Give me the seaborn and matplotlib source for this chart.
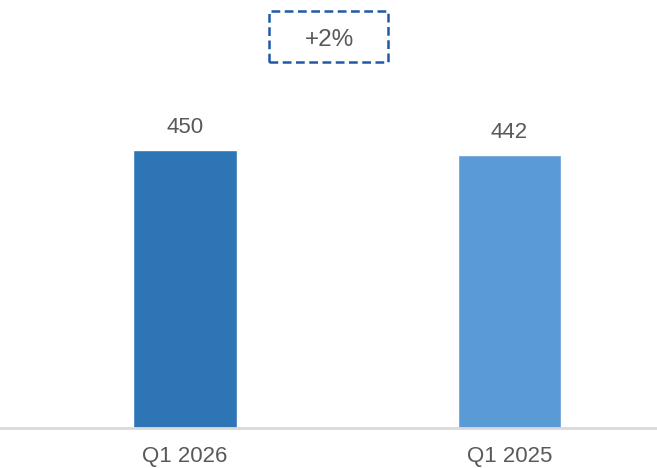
import matplotlib
matplotlib.use('Agg')
import matplotlib.pyplot as plt
from matplotlib.patches import Rectangle
import seaborn as sns
import pandas as pd

# dados
periodos = ['Q1 2026', 'Q1 2025']
valores = [450, 442]
cores = ['#2E75B6', '#5B9BD5']
variacao = '+2%'

sns.set_style('white')
plt.rcParams['font.family'] = ['Liberation Sans', 'DejaVu Sans']

df = pd.DataFrame({'periodo': periodos, 'valor': valores})

fig = plt.figure(figsize=(6.57, 4.68), dpi=100)
ax = fig.add_axes([0, 40 / 468, 1, 428 / 468])

sns.barplot(data=df, x='periodo', y='valor', hue='periodo', palette=cores,
            width=0.32, legend=False, ax=ax, saturation=1)

for i, v in enumerate(valores):
    ax.text(i, v + 19, f'{v}', ha='center', va='bottom', fontsize=16, color='#595959')

ax.set_xlim(-0.571, 1.455)
ax.set_ylim(0, 693)
ax.set_xlabel('')
ax.set_ylabel('')
ax.set_yticks([])
ax.tick_params(axis='x', length=0, labelsize=16, labelcolor='#595959', pad=13)
for s in ['top', 'right', 'left']:
    ax.spines[s].set_visible(False)
ax.spines['bottom'].set_color('#D9D9D9')
ax.spines['bottom'].set_linewidth(2)

# caixa da variacao
fig.add_artist(Rectangle((269 / 657, 1 - 62 / 468), 119 / 657, 51 / 468,
                         transform=fig.transFigure, fill=False,
                         linestyle=(0, (3.5, 1.8)), linewidth=1.8, edgecolor='#1F5AA6'))
fig.text(329 / 657, 1 - 40 / 468, variacao, ha='center', va='center',
         fontsize=17.5, color='#595959')

fig.savefig('out.png', dpi=100)
